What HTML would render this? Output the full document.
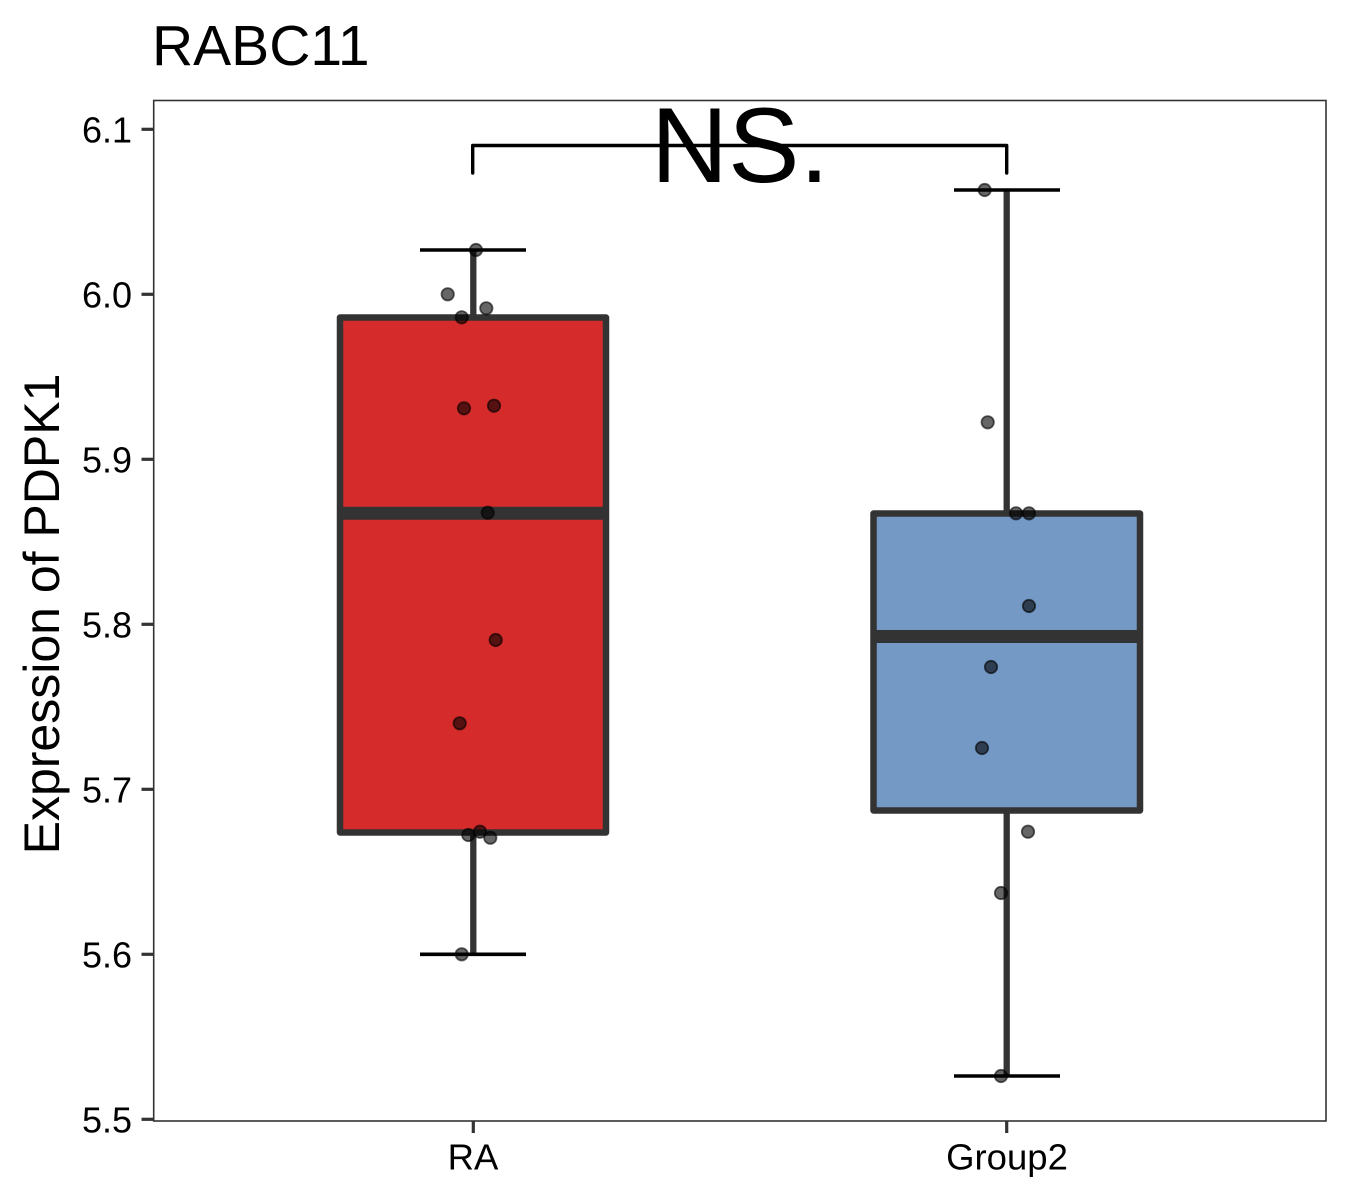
<!DOCTYPE html>
<html>
<head>
<meta charset="utf-8">
<style>
  html, body { margin: 0; padding: 0; background: #ffffff; }
  svg { display: block; }
  text { font-family: "Liberation Sans", Arial, sans-serif; fill: #000; }
</style>
</head>
<body>
<svg width="1350" height="1200" viewBox="0 0 1350 1200" xmlns="http://www.w3.org/2000/svg">
  <rect x="0" y="0" width="1350" height="1200" fill="#ffffff"/>

  <!-- Title -->
  <text x="152" y="65" font-size="57">RABC11</text>

  <!-- Panel border -->
  <rect x="153.7" y="100.5" width="1172.3" height="1020.5" fill="none" stroke="#333333" stroke-width="1.6"/>

  <!-- Y ticks -->
  <g stroke="#333333" stroke-width="3.2">
    <line x1="141.5" y1="129.3" x2="153.7" y2="129.3"/>
    <line x1="141.5" y1="294.3" x2="153.7" y2="294.3"/>
    <line x1="141.5" y1="459.3" x2="153.7" y2="459.3"/>
    <line x1="141.5" y1="624.3" x2="153.7" y2="624.3"/>
    <line x1="141.5" y1="789.3" x2="153.7" y2="789.3"/>
    <line x1="141.5" y1="954.3" x2="153.7" y2="954.3"/>
    <line x1="141.5" y1="1119.3" x2="153.7" y2="1119.3"/>
  </g>
  <g font-size="36" text-anchor="end">
    <text x="132" y="142.3">6.1</text>
    <text x="132" y="307.3">6.0</text>
    <text x="132" y="472.3">5.9</text>
    <text x="132" y="637.3">5.8</text>
    <text x="132" y="802.3">5.7</text>
    <text x="132" y="967.3">5.6</text>
    <text x="132" y="1132.3">5.5</text>
  </g>

  <!-- X ticks -->
  <g stroke="#333333" stroke-width="3.2">
    <line x1="473.3" y1="1121" x2="473.3" y2="1133"/>
    <line x1="1006.7" y1="1121" x2="1006.7" y2="1133"/>
  </g>
  <g font-size="36.5" text-anchor="middle">
    <text x="473" y="1169.5">RA</text>
    <text x="1007" y="1169.5">Group2</text>
  </g>

  <!-- Y axis title -->
  <text transform="translate(59,614) rotate(-90)" font-size="50" text-anchor="middle">Expression of PDPK1</text>

  <!-- RA box -->
  <g stroke="#333333" stroke-linejoin="round">
    <line x1="473.3" y1="250" x2="473.3" y2="317.5" stroke-width="6.3"/>
    <line x1="473.3" y1="832.5" x2="473.3" y2="954.3" stroke-width="6.3"/>
    <rect x="340" y="317.5" width="266" height="515" fill="#D62B2B" stroke-width="6.5"/>
    <line x1="340" y1="513.3" x2="606" y2="513.3" stroke-width="13"/>
  </g>
  <g stroke="#000" stroke-width="3.6">
    <line x1="420" y1="250" x2="526" y2="250"/>
    <line x1="420" y1="954.3" x2="526" y2="954.3"/>
  </g>

  <!-- Group2 box -->
  <g stroke="#333333" stroke-linejoin="round">
    <line x1="1006.7" y1="190" x2="1006.7" y2="513.5" stroke-width="6.3"/>
    <line x1="1006.7" y1="810.5" x2="1006.7" y2="1076" stroke-width="6.3"/>
    <rect x="873.5" y="513.5" width="266.5" height="297" fill="#7499C5" stroke-width="6.5"/>
    <line x1="873.5" y1="636.5" x2="1140" y2="636.5" stroke-width="13"/>
  </g>
  <g stroke="#000" stroke-width="3.6">
    <line x1="954" y1="190" x2="1060" y2="190"/>
    <line x1="954" y1="1076" x2="1060" y2="1076"/>
  </g>

  <!-- Points -->
  <g fill="#000" fill-opacity="0.6" stroke="#000" stroke-opacity="0.6" stroke-width="1.8">
    <circle cx="476" cy="250" r="6.2"/>
    <circle cx="447.7" cy="294.3" r="6.2"/>
    <circle cx="461.7" cy="317.3" r="6.2"/>
    <circle cx="486.3" cy="308.3" r="6.2"/>
    <circle cx="464" cy="408.3" r="6.2"/>
    <circle cx="494" cy="405.7" r="6.2"/>
    <circle cx="487.7" cy="512.7" r="6.2"/>
    <circle cx="495.7" cy="640" r="6.2"/>
    <circle cx="459.7" cy="723.3" r="6.2"/>
    <circle cx="468.3" cy="835" r="6.2"/>
    <circle cx="480" cy="831.7" r="6.2"/>
    <circle cx="490.3" cy="837.7" r="6.2"/>
    <circle cx="461.7" cy="954.3" r="6.2"/>

    <circle cx="984.7" cy="190" r="6.2"/>
    <circle cx="987.7" cy="422.3" r="6.2"/>
    <circle cx="1016" cy="513.3" r="6.2"/>
    <circle cx="1029" cy="513.3" r="6.2"/>
    <circle cx="1029" cy="606" r="6.2"/>
    <circle cx="991" cy="667" r="6.2"/>
    <circle cx="982" cy="748" r="6.2"/>
    <circle cx="1028" cy="831.7" r="6.2"/>
    <circle cx="1001" cy="893" r="6.2"/>
    <circle cx="1001" cy="1076" r="6.2"/>
  </g>

  <!-- Significance bracket -->
  <polyline points="472.7,173 472.7,145.5 1006.7,145.5 1006.7,173" fill="none" stroke="#000" stroke-width="3.4" stroke-linejoin="round" stroke-linecap="round"/>
  <text x="740" y="182" font-size="107" text-anchor="middle">NS.</text>
</svg>
</body>
</html>
